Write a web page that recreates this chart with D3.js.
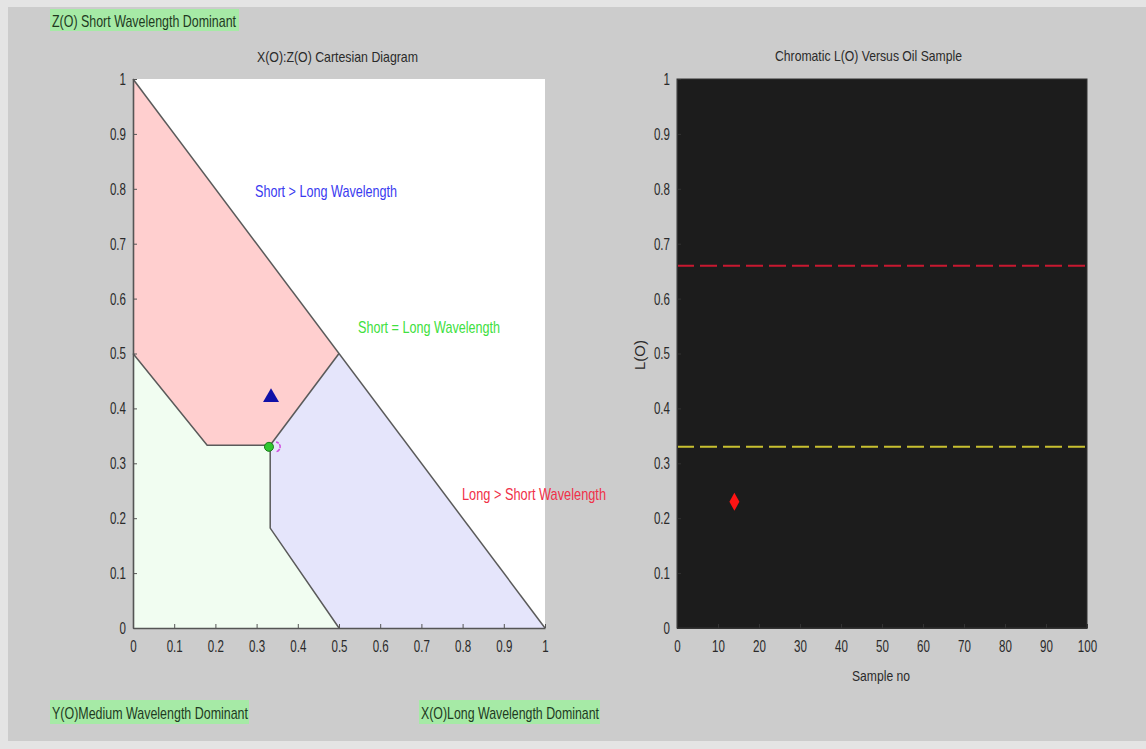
<!DOCTYPE html>
<html><head><meta charset="utf-8">
<script src="https://cdn.jsdelivr.net/npm/d3@7"></script>
<style>
html,body{margin:0;padding:0;background:#e4e4e4;}
svg{display:block;}
text{font-family:"Liberation Sans Narrow","Arial Narrow","Liberation Sans",sans-serif;}
</style></head>
<body>
<svg id="c" width="1146" height="749"></svg>
<script>
// ---- data ----
const pinkRegion = [[0,1],[0.5,0.5],[0.333,0.333],[0.18,0.333],[0,0.5]];
const greenRegion = [[0,0],[0,0.5],[0.18,0.333],[0.333,0.333],[0.333,0.182],[0.5,0]];
const blueRegion = [[0.333,0.333],[0.5,0.5],[1,0],[0.5,0],[0.333,0.182]];
const triPoint = [0.335, 0.42];
const circPoint = [0.33, 0.33];
const magPoint = [0.345, 0.33];
const leftTicks = [0,0.1,0.2,0.3,0.4,0.5,0.6,0.7,0.8,0.9,1];
const sampleTicks = [0,10,20,30,40,50,60,70,80,90,100];
const upperLimit = 0.66;
const lowerLimit = 0.33;
const samples = [14];
const lValues = [0.23];

const svg = d3.select("#c");
svg.append("rect").attr("x",8).attr("y",7).attr("width",1138).attr("height",734).attr("fill","#cccccc");

const xL = d3.scaleLinear().domain([0,1]).range([133,545]);
const yL = d3.scaleLinear().domain([0,1]).range([628,79]);
const xR = d3.scaleLinear().domain([0,100]).range([677,1087]);
const yR = d3.scaleLinear().domain([0,1]).range([628,79]);

const line = d3.line().x(d=>xL(d[0])).y(d=>yL(d[1]));
const tickFmt = d => d===0?"0":(d===1?"1":d3.format(".1f")(d));

// ---- left plot ----
svg.append("rect").attr("x",xL(0)).attr("y",yL(1)).attr("width",xL(1)-xL(0)).attr("height",yL(0)-yL(1)).attr("fill","#ffffff");
svg.append("path").attr("d",line(greenRegion)+"Z").attr("fill","#f1fdf1");
svg.append("path").attr("d",line(pinkRegion)+"Z").attr("fill","#ffcfcf");
svg.append("path").attr("d",line(blueRegion)+"Z").attr("fill","#e5e5fb");
const edge = {fill:"none",stroke:"#5a5a5a","stroke-width":1.5};
function seg(pts){const p=svg.append("path").attr("d",line(pts));for(const k in edge)p.attr(k,edge[k]);}
seg([[0,1],[1,0]]);
seg([[0,0.5],[0.18,0.333],[0.333,0.333],[0.333,0.182],[0.5,0]]);
seg([[0.333,0.333],[0.5,0.5]]);

function squeeze(sel,f){sel.each(function(){const w=this.getComputedTextLength();
  d3.select(this).attr("textLength",w*f).attr("lengthAdjust","spacingAndGlyphs");});}

const axL = svg.append("g").attr("transform",`translate(0,${yL(0)})`)
  .call(d3.axisBottom(xL).tickValues(leftTicks).tickFormat(tickFmt).tickSizeInner(-4).tickSizeOuter(0).tickPadding(12));
const ayL = svg.append("g").attr("transform",`translate(${xL(0)},0)`)
  .call(d3.axisLeft(yL).tickValues(leftTicks).tickFormat(tickFmt).tickSizeInner(-4).tickSizeOuter(0).tickPadding(7));
[axL,ayL].forEach(g=>{g.select(".domain").attr("stroke","#555").attr("stroke-width",1.6);
  g.selectAll(".tick line").attr("stroke","#555");
  g.selectAll(".tick text").attr("fill","#2a2a2a").attr("font-size",17);
  squeeze(g.selectAll(".tick text"),0.68);});

// markers
svg.append("path").attr("d",d3.symbol(d3.symbolTriangle,110)())
  .attr("transform",`translate(${xL(triPoint[0])},${yL(triPoint[1])})`).attr("fill","#1010a8");
svg.append("path").attr("d",d3.arc()({innerRadius:5,outerRadius:5,startAngle:0.2,endAngle:Math.PI-0.2}))
  .attr("transform",`translate(${xL(magPoint[0])},${yL(magPoint[1])})`).attr("fill","none")
  .attr("stroke","#d050e0").attr("stroke-width",1.5).attr("stroke-dasharray","3,2");
svg.append("circle").attr("cx",xL(circPoint[0])).attr("cy",yL(circPoint[1])).attr("r",4.5)
  .attr("fill","#30c830").attr("stroke","#1a7a1a").attr("stroke-width",1);

function label(txt,x,y,len,opts){
  const t=svg.append("text").attr("x",x).attr("y",y).text(txt)
    .attr("textLength",len).attr("lengthAdjust","spacingAndGlyphs");
  for(const k in opts)t.attr(k,opts[k]);
  return t;
}
label("Short > Long Wavelength",255,197,142,{fill:"#3a3af0","font-size":17});
label("Short = Long Wavelength",358,333,142,{fill:"#40e040","font-size":17});
label("Long > Short Wavelength",462,500,144,{fill:"#f03048","font-size":17});

label("X(O):Z(O) Cartesian Diagram",257,62,161,{fill:"#2a2a2a","font-size":15});

// corner labels
svg.append("rect").attr("x",50).attr("y",9).attr("width",189).attr("height",22).attr("fill","#a6eaa6");
label("Z(O) Short Wavelength Dominant",52,27,184,{fill:"#1f3a1f","font-size":17});
svg.append("rect").attr("x",50).attr("y",700).attr("width",199).attr("height",24).attr("fill","#a6eaa6");
label("Y(O)Medium Wavelength Dominant",52,719,196,{fill:"#1f3a1f","font-size":17});
svg.append("rect").attr("x",419).attr("y",700).attr("width",181).attr("height",24).attr("fill","#a6eaa6");
label("X(O)Long Wavelength Dominant",421,719,178,{fill:"#1f3a1f","font-size":17});

// ---- right plot ----
svg.append("rect").attr("x",xR(0)).attr("y",yR(1)).attr("width",xR(100)-xR(0)).attr("height",yR(0)-yR(1))
  .attr("fill","#1c1c1c").attr("stroke","#333").attr("stroke-width",1);
svg.append("line").attr("x1",xR(0)).attr("x2",xR(100)).attr("y1",yR(upperLimit)).attr("y2",yR(upperLimit))
  .attr("stroke","#c81830").attr("stroke-width",2).attr("stroke-dasharray","17,6");
svg.append("line").attr("x1",xR(0)).attr("x2",xR(100)).attr("y1",yR(lowerLimit)).attr("y2",yR(lowerLimit))
  .attr("stroke","#c8c030").attr("stroke-width",2).attr("stroke-dasharray","17,6");
svg.selectAll(".dia").data(samples).enter().append("path")
  .attr("d","M0,-9L5,0L0,9L-5,0Z")
  .attr("transform",(d,i)=>`translate(${xR(d)},${yR(lValues[i])})`).attr("fill","#ff1414");

const axR = svg.append("g").attr("transform",`translate(0,${yR(0)})`)
  .call(d3.axisBottom(xR).tickValues(sampleTicks).tickSizeInner(-4).tickSizeOuter(0).tickPadding(12));
const ayR = svg.append("g").attr("transform",`translate(${xR(0)},0)`)
  .call(d3.axisLeft(yR).tickValues(leftTicks).tickFormat(tickFmt).tickSizeInner(-4).tickSizeOuter(0).tickPadding(7));
[axR,ayR].forEach(g=>{g.select(".domain").attr("stroke","#333").attr("stroke-width",1);
  g.selectAll(".tick line").attr("stroke","#333");
  g.selectAll(".tick text").attr("fill","#2a2a2a").attr("font-size",17);
  squeeze(g.selectAll(".tick text"),0.68);});

label("Chromatic L(O) Versus Oil Sample",775,61,187,{fill:"#2a2a2a","font-size":15});
label("Sample no",852,681,58,{fill:"#2a2a2a","font-size":15});
svg.append("text").attr("transform","translate(645,355) rotate(-90)").attr("text-anchor","middle")
  .attr("fill","#2a2a2a").attr("font-size",15).attr("textLength",30).attr("lengthAdjust","spacingAndGlyphs").text("L(O)");
</script>
</body></html>
